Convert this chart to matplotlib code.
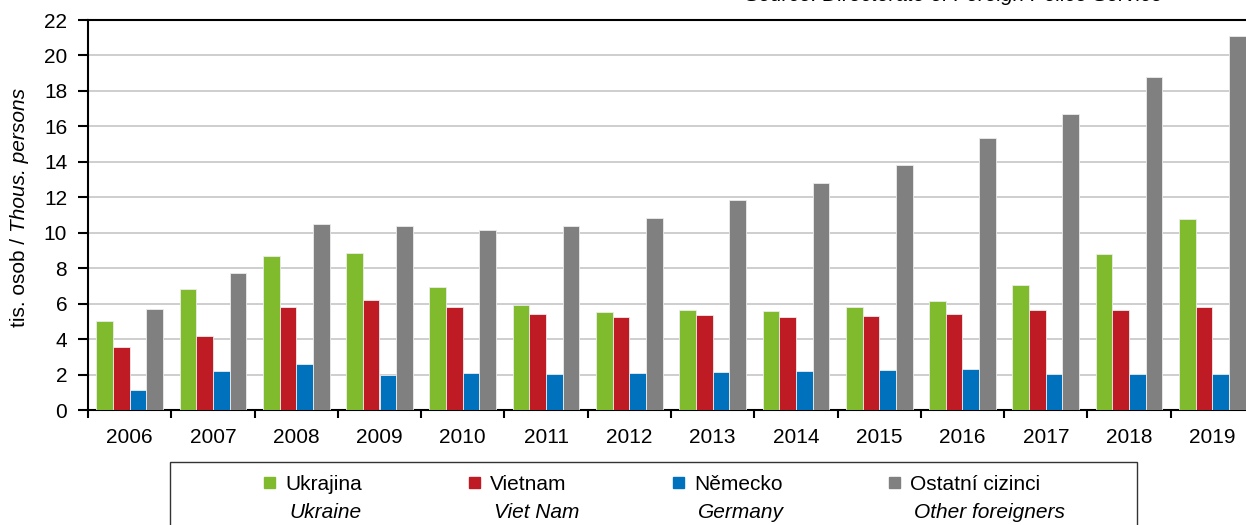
import matplotlib
matplotlib.use("Agg")
import matplotlib.pyplot as plt
from matplotlib.patches import Rectangle
import numpy as np

plt.rcParams['font.family'] = ['Liberation Sans', 'DejaVu Sans']
plt.rcParams['font.size'] = 15

# data (tis. osob)
years = ['2006', '2007', '2008', '2009', '2010', '2011', '2012',
         '2013', '2014', '2015', '2016', '2017', '2018', '2019']
ukrajina = [5.0, 6.8, 8.7, 8.85, 6.96, 5.9, 5.51, 5.66, 5.57, 5.8, 6.15, 7.07, 8.8, 10.77]
vietnam = [3.55, 4.2, 5.8, 6.2, 5.79, 5.4, 5.27, 5.36, 5.25, 5.33, 5.43, 5.62, 5.64, 5.79]
nemecko = [1.15, 2.2, 2.6, 2.0, 2.07, 2.05, 2.11, 2.16, 2.22, 2.28, 2.29, 2.01, 2.01, 2.03]
ostatni = [5.7, 7.75, 10.5, 10.4, 10.17, 10.36, 10.83, 11.87, 12.8, 13.8, 15.34, 16.68, 18.8, 21.1]

series = [ukrajina, vietnam, nemecko, ostatni]
names_cz = ['Ukrajina', 'Vietnam', 'Německo', 'Ostatní cizinci']
names_en = ['Ukraine', 'Viet Nam', 'Germany', 'Other foreigners']
colors = ['#80BA2D', '#BE1B24', '#0071BD', '#808080']

W, H = 1246, 525
fig = plt.figure(figsize=(W / 100, H / 100), dpi=100)


def fx(px):
    return px / W


def fy(py):
    return 1 - py / H


ax = fig.add_axes([fx(88), fy(410), (1254 - 88) / W, 390 / H])

x = np.arange(len(years))
bw = 0.2
for k, (vals, col) in enumerate(zip(series, colors)):
    ax.bar(x + (k - 1.5) * bw, vals, width=bw, color=col,
           edgecolor='#ececec', linewidth=0.6, zorder=3)

ax.set_xlim(-0.5, len(years) - 0.5)
ax.set_ylim(0, 22)
ax.set_yticks(np.arange(0, 23, 2))
ax.yaxis.grid(True, color='#cacaca', linewidth=1.3, zorder=0)
ax.set_axisbelow(True)

ax.set_xticks(np.arange(-0.5, len(years), 1))
ax.set_xticklabels([])
ax.set_xticks(x, minor=True)
ax.set_xticklabels(years, minor=True)
ax.tick_params(axis='x', which='major', direction='out', length=6, width=1.5)
ax.tick_params(axis='x', which='minor', length=0, pad=13)
ax.tick_params(axis='y', direction='out', length=7, width=1.5, pad=8)

for s in ['left', 'bottom', 'top']:
    ax.spines[s].set_linewidth(1.5)
ax.spines['right'].set_visible(False)

# popisek osy y: cast normalne, cast kurzivou
t1 = fig.text(fx(20), fy(327), 'tis. osob / ', rotation=90,
              ha='center', va='bottom', fontsize=15)
fig.canvas.draw()
bb = t1.get_window_extent()
fig.text(fx(20), bb.y1 / H, 'Thous. persons', rotation=90, style='italic',
         ha='center', va='bottom', fontsize=15)

# zdroj nahore (oriznuty jako v predloze)
fig.text(fx(1163), fy(1), 'Source: Directorate of Foreign Police Service',
         style='italic', ha='right', va='baseline', fontsize=15)

# legenda
fig.patches.append(Rectangle((fx(170), fy(560)), (1137 - 170) / W, (560 - 462) / H,
                             transform=fig.transFigure, fill=False,
                             edgecolor='#333333', linewidth=1.0, clip_on=False))
marker_x = [269.5, 474, 678, 894]
for mx, col, cz, en in zip(marker_x, colors, names_cz, names_en):
    fig.patches.append(Rectangle((fx(mx - 5.5), fy(487.5)), 11 / W, 11 / H,
                                 transform=fig.transFigure, color=col))
    fig.text(fx(mx + 16), fy(482), cz, ha='left', va='center_baseline', fontsize=15)
    fig.text(fx(mx + 19.5), fy(510), en, ha='left', va='center_baseline',
             style='italic', fontsize=15)

fig.savefig('out.png', dpi=100)
